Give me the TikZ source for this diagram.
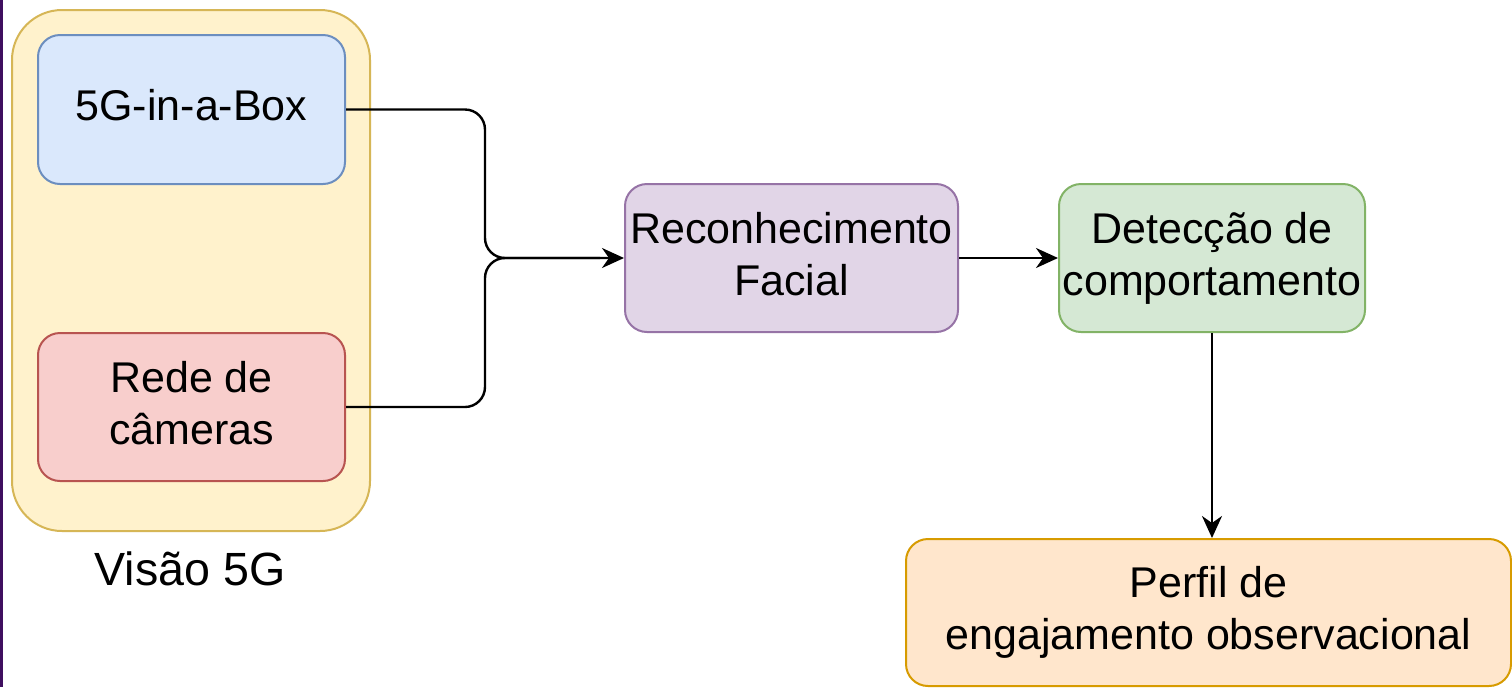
\documentclass[tikz,border=0pt]{standalone}
\usepackage{fontspec}
\setmainfont{Liberation Sans}
\usetikzlibrary{arrows.meta}
\definecolor{yfill}{HTML}{FFF2CC}\definecolor{ydraw}{HTML}{D6B656}
\definecolor{bfill}{HTML}{DAE8FC}\definecolor{bdraw}{HTML}{6C8EBF}
\definecolor{rfill}{HTML}{F8CECC}\definecolor{rdraw}{HTML}{B85450}
\definecolor{pfill}{HTML}{E1D5E7}\definecolor{pdraw}{HTML}{9673A6}
\definecolor{gfill}{HTML}{D5E8D4}\definecolor{gdraw}{HTML}{82B366}
\definecolor{ofill}{HTML}{FFE6CC}\definecolor{odraw}{HTML}{D79B00}
\definecolor{edgebar}{HTML}{3F0F5F}
\tikzset{
  boxstyle/.style={draw, rounded corners=11pt, line width=1pt, inner sep=0pt, align=center,
    text depth=4.5pt, font=\fontsize{21.5}{26}\selectfont},
  conn/.style={line width=1.2pt, rounded corners=10pt, -{Stealth[length=11pt,width=10pt,inset=3.5pt]}},
  plainconn/.style={line width=1.2pt, rounded corners=10pt, shorten >=12pt},
}
\begin{document}
\begin{tikzpicture}[x=0.5pt,y=-0.5pt]
\useasboundingbox (0,0) rectangle (1512,687);
\fill[white] (0,0) rectangle (1512,687);
\fill[edgebar] (0,0) rectangle (3,687);
% container
\node (cont) [draw=ydraw, fill=yfill, line width=1pt, rounded corners=25pt, minimum width=179pt, minimum height=260.5pt, inner sep=0pt] at (191,270.5) {};
\node (contlabel) [font=\fontsize{23.3}{28}\selectfont, anchor=base] at (190,585) {Visão 5G};
% boxes
\node (box5g) [boxstyle, draw=bdraw, fill=bfill, minimum width=153.5pt, minimum height=74.5pt] at (191.5,109.5) {5G-in-a-Box};
\node (cams) [boxstyle, draw=rdraw, fill=rfill, minimum width=153.5pt, minimum height=74pt] at (191.5,407) {Rede de\\câmeras};
\node (recog) [boxstyle, draw=pdraw, fill=pfill, minimum width=166.5pt, minimum height=74pt] at (791.5,258) {Reconhecimento\\Facial};
\node (detect) [boxstyle, draw=gdraw, fill=gfill, minimum width=153pt, minimum height=74pt] at (1212,258) {Detecção de\\comportamento};
\node (perfil) [boxstyle, draw=odraw, fill=ofill, minimum width=302.5pt, minimum height=73.5pt] at (1208.5,612.5) {Perfil de\\engajamento observacional};
% connectors
\coordinate (join) at (485,258);
\draw[plainconn] (cams.east) -| (join) -- (recog.west);
\draw[conn] (box5g.east) -| (join) -- (recog.west);
\draw[conn] (recog.east) -- (detect.west);
\draw[conn] (detect.south) -- (detect.south |- perfil.north);
\end{tikzpicture}
\end{document}
